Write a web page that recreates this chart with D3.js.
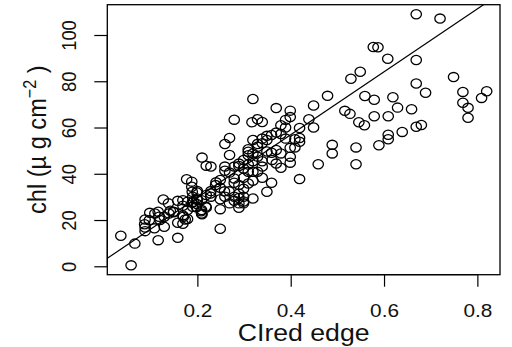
<!DOCTYPE html>
<html>
<head>
<meta charset="utf-8">
<script src="https://cdn.jsdelivr.net/npm/d3@7"></script>
<style>
  html, body { margin: 0; padding: 0; background: #fff; }
  svg { display: block; font-family: 'Liberation Sans', Arial, Helvetica, sans-serif; }
</style>
</head>
<body>
<svg id="chart" width="512" height="347"></svg>
<script>
// CIred edge index vs chlorophyll content
const cired = [
  0.036, 0.066, 0.058, 0.088, 0.087, 0.088, 0.088, 0.098, 0.108, 0.116,
  0.116, 0.118, 0.120, 0.129, 0.127, 0.138, 0.142, 0.149, 0.158, 0.158,
  0.158, 0.169, 0.170, 0.177, 0.188, 0.188, 0.189, 0.190, 0.192, 0.190,
  0.179, 0.174, 0.200, 0.200, 0.198, 0.208, 0.210, 0.210, 0.219, 0.229,
  0.218, 0.228, 0.229, 0.240, 0.249, 0.249, 0.249, 0.249, 0.259, 0.259,
  0.258, 0.268, 0.269, 0.259, 0.269, 0.279, 0.269, 0.279, 0.289, 0.279,
  0.289, 0.289, 0.289, 0.289, 0.299, 0.299, 0.299, 0.299, 0.309, 0.309,
  0.309, 0.309, 0.319, 0.319, 0.319, 0.319, 0.317, 0.329, 0.339, 0.329,
  0.339, 0.329, 0.339, 0.339, 0.349, 0.339, 0.349, 0.359, 0.359, 0.349,
  0.369, 0.369, 0.379, 0.379, 0.369, 0.379, 0.389, 0.389, 0.389, 0.399,
  0.399, 0.399, 0.399, 0.399, 0.409, 0.409, 0.419, 0.419, 0.419, 0.419,
  0.439, 0.449, 0.449, 0.459, 0.479, 0.489, 0.489, 0.516, 0.527, 0.529,
  0.549, 0.546, 0.558, 0.540, 0.540, 0.559, 0.579, 0.579, 0.577, 0.587,
  0.589, 0.608, 0.609, 0.609, 0.609, 0.619, 0.629, 0.639, 0.659, 0.669,
  0.680, 0.669, 0.669, 0.669, 0.689, 0.720, 0.749, 0.769, 0.769, 0.780,
  0.780, 0.809, 0.820,
  0.199, 0.199, 0.209, 0.219, 0.209, 0.179, 0.169, 0.179, 0.169, 0.229,
  0.279, 0.289, 0.299, 0.309, 0.309, 0.319, 0.329, 0.339, 0.319, 0.299,
  0.289, 0.329, 0.359, 0.349, 0.369, 0.379, 0.319, 0.360, 0.269, 0.239,
  0.219, 0.209, 0.189, 0.149, 0.139, 0.129, 0.109, 0.097, 0.169, 0.199,
  0.249, 0.259, 0.279, 0.279, 0.299
];
const chl = [
  13.2, 9.8, 0.4, 20.2, 18.2, 16.8, 15.2, 23.1, 16.4, 11.3,
  23.6, 21.4, 20.0, 17.1, 28.9, 27.2, 24.0, 23.6, 28.3, 12.3,
  18.8, 18.4, 21.4, 37.6, 36.6, 34.4, 32.2, 30.1, 27.9, 25.7,
  24.3, 20.2, 32.5, 28.6, 25.5, 23.8, 22.5, 47.0, 43.5, 43.1,
  25.8, 31.5, 32.5, 36.3, 37.3, 29.0, 24.7, 16.2, 43.1, 41.3,
  32.4, 32.4, 27.2, 52.9, 55.5, 63.4, 48.1, 43.1, 44.4, 36.1,
  35.1, 31.5, 29.5, 25.3, 46.0, 38.3, 33.5, 28.0, 50.6, 49.5,
  44.0, 40.9, 45.4, 37.0, 29.3, 72.3, 62.3, 63.6, 62.4, 52.9,
  53.2, 40.9, 45.4, 38.3, 56.4, 55.2, 49.6, 49.1, 36.1, 32.2,
  68.4, 57.8, 57.2, 61.0, 44.4, 42.6, 63.3, 60.0, 55.2, 67.3,
  64.5, 51.2, 47.4, 44.8, 54.9, 51.4, 55.5, 53.8, 59.8, 37.7,
  63.6, 69.5, 60.0, 44.1, 73.7, 52.5, 48.8, 67.2, 65.9, 81.1,
  84.1, 62.3, 61.0, 51.4, 44.1, 73.6, 72.0, 64.9, 94.8, 94.7,
  52.3, 89.7, 64.9, 56.9, 54.9, 73.1, 68.6, 58.1, 67.9, 60.3,
  61.1, 79.0, 89.2, 109.0, 75.0, 107.1, 81.8, 75.4, 70.7, 68.5,
  64.2, 72.8, 75.7,
  31.9, 26.9, 24.3, 25.4, 22.8, 27.9, 26.2, 20.4, 22.0, 30.1,
  28.3, 27.2, 30.1, 35.8, 48.0, 48.8, 47.4, 43.1, 40.9, 42.3,
  43.4, 51.7, 56.8, 54.6, 50.3, 48.8, 54.6, 46.0, 40.5, 35.1,
  30.8, 28.6, 27.5, 23.4, 22.8, 21.4, 22.8, 19.9, 28.6, 29.3,
  34.0, 30.1, 38.0, 30.1, 27.2
];

// fitted line chl = a + b * CIred
const fitIntercept = 2.5;
const fitSlope = 136;

const xTicks = [0.2, 0.4, 0.6, 0.8];
const yTicks = [0, 20, 40, 60, 80, 100];

const xTitle = 'CIred edge';

// plot region in pixels (the picture is a bit stretched sideways)
const plot = { left: 107.3, right: 500, top: 4.7, bottom: 274.7 };
const stretch = 'scale(1.3,1.15)';

const svg = d3.select('#chart');

const x = d3.scaleLinear().domain([0.007, 0.8485]).range([plot.left, plot.right]);
const y = d3.scaleLinear().domain([-3.64, 113.1]).range([plot.bottom, plot.top]);

// x axis
const xAxis = svg.append('g')
  .attr('transform', `translate(0,${plot.bottom})`)
  .call(d3.axisBottom(x).tickValues(xTicks).tickSize(12).tickFormat(d3.format('.1f')));
xAxis.select('.domain').attr('d', `M${x(xTicks[0])},0H${x(xTicks[xTicks.length - 1])}`)
  .attr('stroke-width', 1.2);
xAxis.selectAll('.tick line').attr('stroke-width', 1.2);
xAxis.selectAll('.tick text')
  .attr('y', null).attr('dy', null)
  .attr('transform', `translate(0,42) ${stretch}`)
  .attr('fill', '#111')
  .style('font-size', '16px');

// y axis, labels turned like R does
const yAxis = svg.append('g')
  .attr('transform', `translate(${plot.left},0)`)
  .call(d3.axisLeft(y).tickValues(yTicks).tickSize(13));
yAxis.select('.domain').attr('d', `M0,${y(yTicks[0])}V${y(yTicks[yTicks.length - 1])}`)
  .attr('stroke-width', 1.2);
yAxis.selectAll('.tick line').attr('stroke-width', 1.2);
yAxis.selectAll('.tick text')
  .attr('x', null).attr('dy', null)
  .attr('text-anchor', 'middle')
  .attr('transform', `translate(-31,0) ${stretch} rotate(-90)`)
  .attr('fill', '#111')
  .style('font-size', '16px');

// box round the plot
svg.append('rect')
  .attr('x', plot.left).attr('y', plot.top)
  .attr('width', plot.right - plot.left).attr('height', plot.bottom - plot.top)
  .attr('fill', 'none').attr('stroke', '#000').attr('stroke-width', 1.3);

// axis titles
svg.append('text')
  .attr('transform', `translate(${(plot.left + plot.right) / 2},341) ${stretch}`)
  .attr('text-anchor', 'middle')
  .attr('fill', '#111')
  .style('font-size', '20.5px')
  .text(xTitle);

const yTitle = svg.append('text')
  .attr('transform', `translate(46,${(plot.top + plot.bottom) / 2}) ${stretch} rotate(-90)`)
  .attr('text-anchor', 'middle')
  .attr('fill', '#111')
  .style('font-size', '20.5px');
yTitle.append('tspan').text('chl (\u00b5 g cm');
yTitle.append('tspan').attr('dy', -8).style('font-size', '14px').text('\u22122');
yTitle.append('tspan').attr('dy', 8).text(' )');

// regression line, clipped to the plot box
svg.append('clipPath').attr('id', 'clip')
  .append('rect')
  .attr('x', plot.left).attr('y', plot.top)
  .attr('width', plot.right - plot.left).attr('height', plot.bottom - plot.top);

const [x0, x1] = x.domain();
svg.append('line')
  .attr('clip-path', 'url(#clip)')
  .attr('x1', x(x0)).attr('y1', y(fitIntercept + fitSlope * x0))
  .attr('x2', x(x1)).attr('y2', y(fitIntercept + fitSlope * x1))
  .attr('stroke', '#000').attr('stroke-width', 1.2);

// the points, open circles
svg.append('g')
  .selectAll('ellipse')
  .data(d3.zip(cired, chl))
  .enter()
  .append('ellipse')
  .attr('cx', d => x(d[0]))
  .attr('cy', d => y(d[1]))
  .attr('rx', 5.2)
  .attr('ry', 4.6)
  .attr('fill', 'none')
  .attr('stroke', '#000')
  .attr('stroke-width', 1.3);
</script>
</body>
</html>
